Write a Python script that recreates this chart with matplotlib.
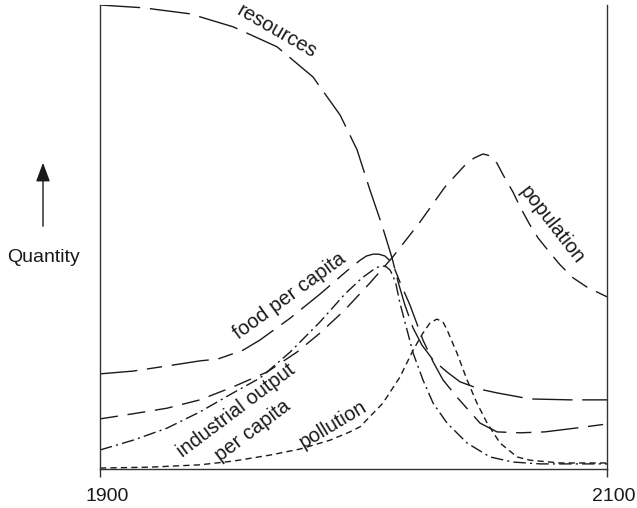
import matplotlib
matplotlib.use("Agg")
import matplotlib.pyplot as plt
import matplotlib.transforms as mtransforms

plt.rcParams['font.family'] = ['Liberation Sans', 'DejaVu Sans']

# values (x in years, y in % of axis height)
res_years = [1900, 1917, 1935.5, 1952.5, 1969.8, 1984, 1994.7, 2001.4, 2006.5, 2011.2,
             2015.2, 2017.6, 2020.3, 2023.5, 2027, 2031.4, 2036.9, 2042, 2049.9,
             2056.6, 2069.6, 2085.4, 2100]
res_vals = [100, 99.4, 98.1, 95.3, 91.0, 84.5, 76.3, 68.8, 60.1, 52.6,
            45.5, 40.3, 35.3, 30.4, 26.7, 23.5, 20.9, 18.8, 17.2,
            16.4, 15.1, 14.9, 14.9]

pop_years = [1900, 1913, 1926.4, 1939.4, 1952.5, 1965.9, 1977.7, 1986.8, 1996.6, 2006.5,
             2015.2, 2026.2, 2036.1, 2044, 2047.5, 2051.1, 2053.8, 2056.6, 2059.0,
             2062.9, 2065.7, 2069.6, 2072.8, 2077.5, 2081.5, 2086.6, 2092.1, 2100]
pop_vals = [10.8, 11.9, 13.1, 14.9, 17.7, 20.9, 25.2, 29.3, 34.3, 40.1,
            45.5, 53.2, 60.8, 65.5, 67.0, 67.9, 67.5, 65.9, 63.4,
            59.7, 56.5, 52.6, 49.8, 46.6, 44.0, 41.2, 39.2, 37.1]

food_years = [1900, 1913, 1926.4, 1939.4, 1946.5, 1956.4, 1963.1, 1975, 1986.8, 1997.4,
              2002.6, 2005.1, 2007.7, 2010.0, 2012.4, 2014.0, 2015.6, 2018.3, 2022.3,
              2027.4, 2031.4, 2035.3, 2040.8, 2049.9, 2056.6, 2065.7, 2075.5, 2087.4, 2100]
food_vals = [20.5, 21.1, 22.2, 23.3, 23.7, 25.6, 27.8, 32.5, 37.7, 42.7,
             45.0, 45.9, 46.3, 46.3, 45.9, 45.1, 44.0, 40.3, 35.3,
             27.8, 23.1, 19.2, 15.5, 9.9, 8.0, 7.8, 8.0, 8.8, 9.7]

ind_years = [1900, 1913, 1926.4, 1939.4, 1952.5, 1963.1, 1975, 1986.8, 1996.6, 2003.4,
             2007.7, 2009.6, 2011.2, 2012.8, 2014.4, 2015.6, 2016.8, 2018.3, 2021.1,
             2023.5, 2027.4, 2031.4, 2036.9, 2044.8, 2053.8, 2062.9, 2073.6, 2100]
ind_vals = [4.1, 6.2, 8.8, 12.3, 16.4, 19.6, 25.2, 31.7, 37.7, 41.2,
            42.9, 43.5, 43.8, 43.6, 42.9, 41.6, 39.7, 35.8, 30.0,
            25.0, 19.2, 14.2, 9.9, 5.6, 2.6, 1.5, 1.1, 1.1]

pol_years = [1900, 1919.7, 1939.4, 1952.5, 1967.1, 1978.9, 1990.7, 1998.6, 2002.6, 2011.6,
             2018.3, 2023.5, 2027.4, 2030.2, 2032.9, 2035.3, 2036.9, 2040.8, 2044.8,
             2048.7, 2052.7, 2057.8, 2064.5, 2069.6, 2081.5, 2100]
pol_vals = [0.2, 0.4, 0.9, 1.7, 3.0, 4.3, 6.2, 8.0, 9.1, 14.2,
            19.8, 25.6, 29.3, 31.5, 32.3, 31.7, 30.0, 25.0, 19.2,
            14.2, 9.9, 5.6, 2.6, 1.9, 1.3, 1.3]

year_ticks = [1900, 2100]

ink = '#1a1a1a'

fig = plt.figure(figsize=(6.37, 5.08), dpi=100)
ax = fig.add_axes([100 / 637, 39 / 508, 507 / 637, 464 / 508])

ax.plot(res_years, res_vals, color=ink, lw=1.0, dashes=(29, 7))
ax.plot(pop_years, pop_vals, color=ink, lw=1.0, dashes=(13, 7))
ax.plot(food_years, food_vals, color=ink, lw=1.0, dashes=(27, 7, 11, 7))
ax.plot(ind_years, ind_vals, color=ink, lw=1.0, dashes=(9, 3, 1.5, 3))
ax.plot(pol_years, pol_vals, color=ink, lw=1.0, dashes=(4.5, 3))

ax.set_xlim(1900, 2100)
ax.set_ylim(0, 100)
ax.spines['top'].set_visible(False)
for s in ('left', 'right', 'bottom'):
    ax.spines[s].set_color('#333333')
    ax.spines[s].set_linewidth(1.0)
ax.set_yticks([])
ax.set_xticks(year_ticks)
ax.set_xticklabels([str(y) for y in year_ticks])
ax.tick_params(axis='x', direction='out', length=6, width=1.0, color='#333333',
               labelsize=14, pad=8, labelcolor=ink)
shift = mtransforms.ScaledTranslation(7 / 100, 0, fig.dpi_scale_trans)
for lab in ax.get_xticklabels():
    lab.set_transform(lab.get_transform() + shift)

# curve labels
lab_kw = dict(fontsize=14.5, color=ink, ha='center', va='center', rotation_mode='anchor')
ax.text(1969.8, 94.3, 'resources', rotation=-30, **lab_kw)
ax.text(2078.3, 52.6, 'population', rotation=-52, **lab_kw)
ax.text(1974.6, 37.3, 'food per capita', rotation=36, **lab_kw)
ax.text(1953.6, 12.7, 'industrial output', rotation=37, **lab_kw)
ax.text(1960.4, 8.2, 'per capita', rotation=37, **lab_kw)
ax.text(1991.9, 9.6, 'pollution', rotation=31, **lab_kw)

# quantity arrow on the left
ax.annotate('', xy=(43 / 637, 348 / 508), xytext=(43 / 637, 279 / 508),
            xycoords='figure fraction', textcoords='figure fraction',
            arrowprops=dict(arrowstyle='-|>,head_length=1.15,head_width=0.43',
                            mutation_scale=10, color=ink, lw=1.0))
fig.text(43 / 637, 250 / 508, 'Quantity', fontsize=14, color=ink,
         ha='center', va='center')

fig.savefig('out.png', dpi=100)
